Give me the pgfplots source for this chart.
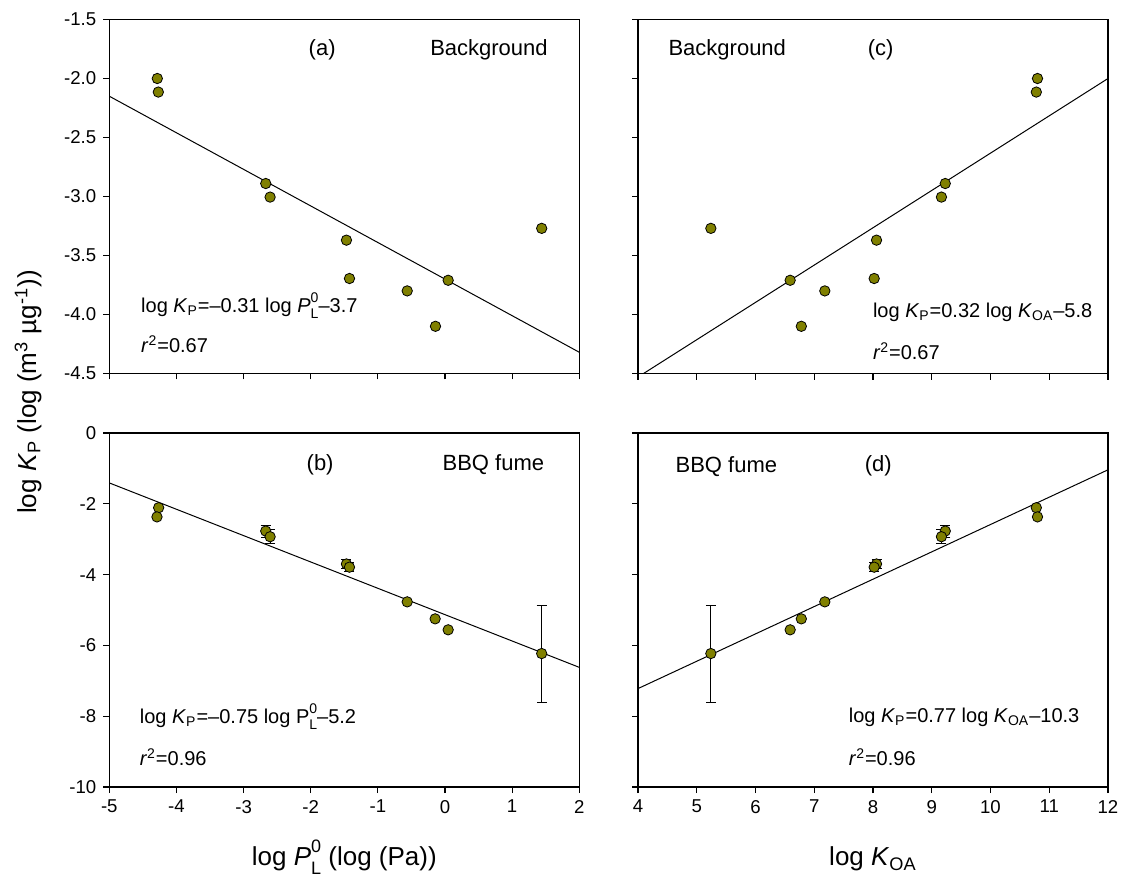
\documentclass[border=0pt]{standalone}
\usepackage{fontspec}
\setmainfont{Liberation Sans}
\usepackage{pgfplots}
\pgfplotsset{compat=1.18}
\definecolor{ptfill}{HTML}{808000}

\newcommand\annfont{\fontsize{11}{13}\selectfont}
\newcommand\eqfont{\fontsize{10}{12}\selectfont}
\newcommand\labfont{\fontsize{13}{15}\selectfont}
% P with subscript L and superscript 0 stacked
\newcommand\SubSup[2]{\rlap{\raisebox{-0.6ex}{\scriptsize #1}}\raisebox{0.95ex}{\scriptsize #2}}
\newcommand\PL{\textit{P}\SubSup{L}{0}}

\pgfplotsset{
  panel/.style={
    scale only axis, width=235pt, height=177pt,
    clip mode=individual,
    axis line style={line width=0.6pt},
    tick align=outside, tick pos=left,
    major tick length=3pt,
    tick style={black, line width=0.6pt},
    ticklabel style={font=\fontsize{9.3}{11}\selectfont},
    /pgf/number format/assume math mode=true,
    xlabel style={font=\labfont, at={(axis description cs:0.5,-0.223)}, anchor=base},
  },
  pts/.style={only marks, mark=*, mark size=2.6pt,
    mark options={fill=ptfill, draw=black, line width=0.4pt}},
  errs/.style={error bars/.cd, y dir=both, y explicit,
    error bar style={black, line width=0.5pt},
    error mark options={rotate=90, mark size=2.5pt, black, line width=0.5pt}},
  fit/.style={black, line width=0.5pt, no marks},
}

% background samples (a, c)
\pgfplotstableread{
pl     koa    y
-4.285 10.80 -2.000
-4.270 10.78 -2.115
-2.670  9.23 -2.890
-2.605  9.165 -3.005
-1.468  8.06 -3.370
-1.423  8.02 -3.695
-0.563  7.18 -3.800
-0.142  6.78 -4.100
 0.047  6.59 -3.710
 1.440  5.24 -3.270
}\bgdata

% BBQ fume samples (b, d)
\pgfplotstableread{
pl     koa    y     e
-4.265 10.78 -2.11 0
-4.290 10.80 -2.37 0
-2.670  9.23 -2.77 0.17
-2.605  9.165 -2.93 0.20
-1.468  8.06 -3.70 0.12
-1.423  8.02 -3.79 0.12
-0.563  7.18 -4.77 0
-0.147  6.78 -5.25 0
 0.047  6.59 -5.56 0
 1.440  5.24 -6.23 1.37
}\bbqdata

\begin{document}
\begin{tikzpicture}
\path[use as bounding box] (0,0) rectangle (560.5pt,437.5pt);

% (a)
\begin{axis}[panel, at={(54.65pt,250.75pt)}, anchor=south west,
  xmin=-5, xmax=2, ymin=-4.5, ymax=-1.5,
  xtick={-5,...,2}, xticklabels={},
  ytick={-4.5,-4.0,-3.5,-3.0,-2.5,-2.0,-1.5},
  yticklabel style={/pgf/number format/.cd, fixed, fixed zerofill, precision=1}]
\addplot[fit] coordinates {(-5,-2.15) (2,-4.32)};
\addplot[pts] table[x=pl, y=y] {\bgdata};
\node[font=\annfont] at (axis cs:-1.83,-1.755) {(a)};
\node[font=\annfont] at (axis cs:0.655,-1.755) {Background};
\node[font=\eqfont, anchor=west] at (axis cs:-4.63,-3.925) {log \textit{K}\textsubscript{P}=–0.31 log \PL–3.7};
\node[font=\eqfont, anchor=west] at (axis cs:-4.63,-4.25) {\textit{r}\textsuperscript{2}=0.67};
\end{axis}

% (c)
\begin{axis}[panel, at={(319pt,250.75pt)}, anchor=south west,
  xmin=4, xmax=12, ymin=-4.5, ymax=-1.5,
  xtick={4,...,12}, xticklabels={},
  ytick={-4.5,-4.0,-3.5,-3.0,-2.5,-2.0,-1.5}, yticklabels={}]
\addplot[fit] coordinates {(4,-4.53) (12,-2.0)};
\addplot[pts] table[x=koa, y=y] {\bgdata};
\node[font=\annfont, anchor=west] at (axis cs:4.40,-1.76) {Background};
\node[font=\annfont] at (axis cs:8.13,-1.76) {(c)};
\node[font=\eqfont, anchor=west] at (axis cs:7.88,-3.98) {log \textit{K}\textsubscript{P}=0.32 log \textit{K}\textsubscript{OA}–5.8};
\node[font=\eqfont, anchor=west] at (axis cs:7.88,-4.31) {\textit{r}\textsuperscript{2}=0.67};
\end{axis}

% (b)
\begin{axis}[panel, at={(54.65pt,44pt)}, anchor=south west,
  xmin=-5, xmax=2, ymin=-10, ymax=0,
  xtick={-5,...,2}, ytick={-10,-8,...,0},
  xlabel={log \textit{P}\rlap{\raisebox{-0.6ex}{\small L}}\raisebox{0.95ex}{\small 0} (log (Pa))}]
\addplot[fit] coordinates {(-5,-1.41) (2,-6.62)};
\addplot[pts, errs] table[x=pl, y=y, y error=e] {\bbqdata};
\node[font=\annfont] at (axis cs:-1.86,-0.9) {(b)};
\node[font=\annfont] at (axis cs:0.72,-0.9) {BBQ fume};
\node[font=\eqfont, anchor=west] at (axis cs:-4.65,-8.02) {log \textit{K}\textsubscript{P}=–0.75 log P\SubSup{L}{0}–5.2};
\node[font=\eqfont, anchor=west] at (axis cs:-4.65,-9.15) {\textit{r}\textsuperscript{2}=0.96};
\end{axis}

% (d)
\begin{axis}[panel, at={(319pt,44pt)}, anchor=south west,
  xmin=4, xmax=12, ymin=-10, ymax=0,
  xtick={4,...,12}, ytick={-10,-8,...,0}, yticklabels={},
  xlabel={log \textit{K}\textsubscript{OA}}]
\addplot[fit] coordinates {(4,-7.22) (12,-1.04)};
\addplot[pts, errs] table[x=koa, y=y, y error=e] {\bbqdata};
\node[font=\annfont, anchor=west] at (axis cs:4.52,-0.94) {BBQ fume};
\node[font=\annfont] at (axis cs:8.09,-0.94) {(d)};
\node[font=\eqfont, anchor=west] at (axis cs:7.47,-8.02) {log \textit{K}\textsubscript{P}=0.77 log \textit{K}\textsubscript{OA}–10.3};
\node[font=\eqfont, anchor=west] at (axis cs:7.47,-9.15) {\textit{r}\textsuperscript{2}=0.96};
\end{axis}

\node[font=\labfont, rotate=90] at (14pt,241.5pt) {log \textit{K}\textsubscript{P} (log (m\textsuperscript{3} µg\textsuperscript{-1}))};
\end{tikzpicture}
\end{document}
